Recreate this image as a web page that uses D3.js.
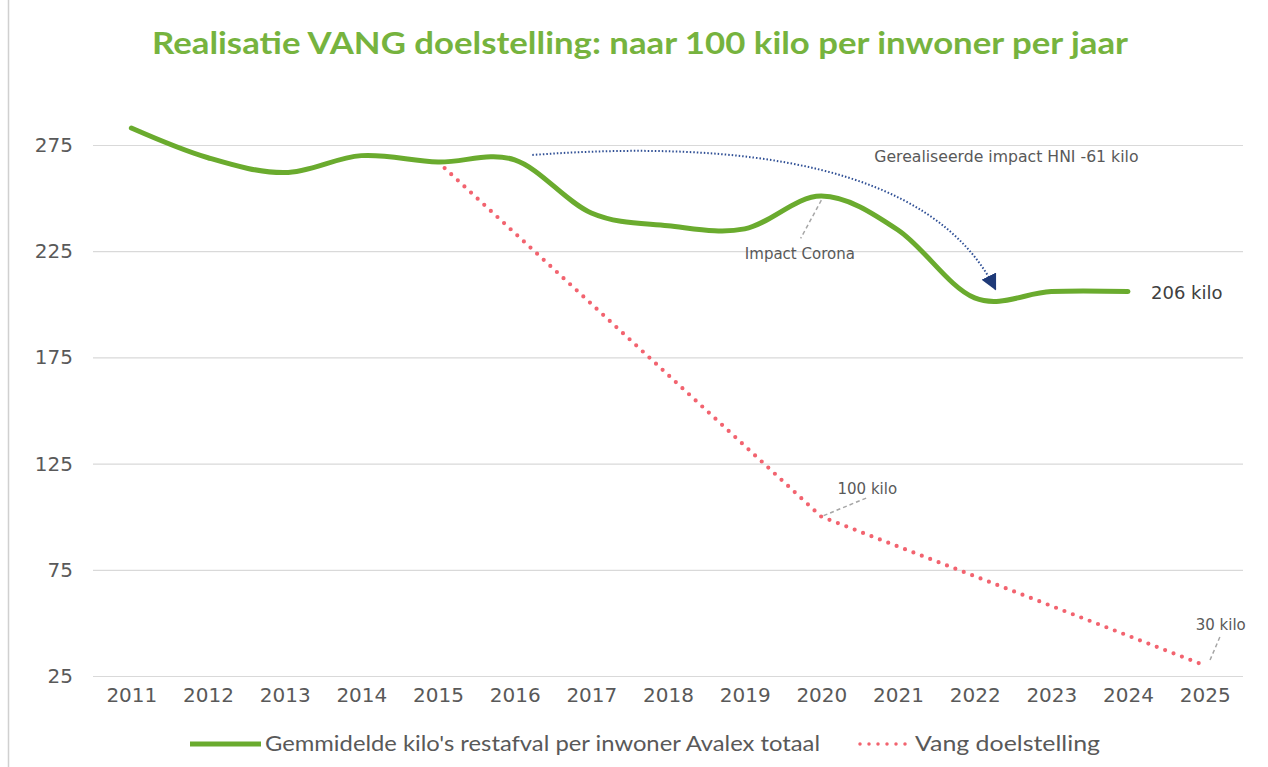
<!DOCTYPE html>
<html>
<head>
<meta charset="utf-8">
<title>Realisatie VANG doelstelling</title>
<style>
body { margin: 0; background: #fff; }
</style>
</head>
<body>
<div id="container"></div>
<script src="https://d3js.org/d3.v7.min.js"></script>
<script>
// Data
const years = ["2011","2012","2013","2014","2015","2016","2017","2018","2019","2020","2021","2022","2023","2024","2025"];
const avalex = [283, 269, 262, 270, 267, 268, 243, 237, 235.5, 251, 235, 203, 206, 206, null];
const vang = [null, null, null, null, 267, null, null, null, null, 100, null, null, null, null, 30];
const yTicks = [25, 75, 125, 175, 225, 275];

const title = "Realisatie VANG doelstelling: naar 100 kilo per inwoner per jaar";
const legendLabels = ["Gemmidelde kilo's restafval per inwoner Avalex totaal", "Vang doelstelling"];

// annotations in data space [year, value]
const notes = [
  {text: "Impact Corona", at: [2019.72, 221.5], anchor: "middle", size: 15, line: [[2020.0, 249], [2019.73, 231]]},
  {text: "100 kilo", at: [2020.6, 110.5], anchor: "middle", size: 15, line: [[2020.03, 100.5], [2020.6, 109]]},
  {text: "30 kilo", at: [2025.21, 46.5], anchor: "middle", size: 15, line: [[2025.07, 32.5], [2025.2, 43.5]]},
  {text: "Gerealiseerde impact HNI -61 kilo", at: [2020.69, 267], anchor: "start", size: 15.7, line: null},
];
const hniArrow = [[2016.23, 270.3], [2018.96, 277.6], [2021.45, 266.0], [2022.27, 207.2]];

const width = 1268;
const height = 767;
const marginLeft = 93;
const marginRight = 25;
const yBottom = 676;
const yTop = 91.9;

const x = d3.scalePoint()
    .domain(years)
    .range([marginLeft, width - marginRight])
    .padding(0.5);

// fractional year positions for annotations
const xl = d3.scaleLinear()
    .domain([2011, 2025])
    .range([x("2011"), x("2025")]);

const y = d3.scaleLinear()
    .domain([25, 300])
    .range([yBottom, yTop]);

const svg = d3.create("svg")
    .attr("width", width)
    .attr("height", height)
    .style("font-family", "'DejaVu Sans', sans-serif");

// left frame edge
svg.append("line")
    .attr("x1", 8.5).attr("x2", 8.5)
    .attr("y1", 0).attr("y2", height)
    .attr("stroke", "#d0d0d0")
    .attr("stroke-width", 1.5);

svg.append("text")
    .attr("x", 152)
    .attr("y", 54)
    .attr("textLength", 976)
    .attr("lengthAdjust", "spacingAndGlyphs")
    .attr("fill", "#76b33e")
    .style("font-family", "Lato, 'Open Sans', sans-serif")
    .style("font-weight", "bold")
    .style("font-size", "31px")
    .text(title);

// gridlines + y labels
const yAxis = svg.append("g")
    .attr("transform", `translate(${marginLeft},0)`)
    .call(d3.axisLeft(y).tickValues(yTicks).tickSize(-(width - marginRight - marginLeft)).tickPadding(20));
yAxis.select(".domain").remove();
yAxis.selectAll(".tick line").attr("stroke", "#d9d9d9").attr("stroke-width", 1.2);
yAxis.selectAll(".tick text")
    .attr("fill", "#595959")
    .style("font-size", "20px")
    .style("font-family", "'DejaVu Sans', sans-serif");

// x labels
const xAxis = svg.append("g")
    .attr("transform", `translate(0,${yBottom})`)
    .call(d3.axisBottom(x).tickSize(0).tickPadding(12));
xAxis.select(".domain").remove();
xAxis.selectAll(".tick text")
    .attr("fill", "#595959")
    .style("font-size", "20px")
    .style("font-family", "'DejaVu Sans', sans-serif");

// series
const rows = years.map((yr, i) => ({year: yr, avalex: avalex[i], vang: vang[i]}));

const greenLine = d3.line()
    .defined(d => d.avalex != null)
    .x(d => x(d.year))
    .y(d => y(d.avalex))
    .curve(d3.curveCardinal.tension(0));

const redLine = d3.line()
    .x(d => x(d.year))
    .y(d => y(d.vang));

svg.append("path")
    .attr("fill", "none")
    .attr("stroke", "#f2636f")
    .attr("stroke-width", 4.2)
    .attr("stroke-linecap", "round")
    .attr("stroke-dasharray", "0 9")
    .attr("d", redLine(rows.filter(d => d.vang != null)));

svg.append("path")
    .attr("fill", "none")
    .attr("stroke", "#6aab2e")
    .attr("stroke-width", 5)
    .attr("stroke-linecap", "round")
    .attr("d", greenLine(rows.filter(d => d.avalex != null)));

// HNI arrow
svg.append("defs").append("marker")
    .attr("id", "head")
    .attr("viewBox", "0 0 10 10")
    .attr("refX", 9).attr("refY", 5)
    .attr("markerWidth", 8).attr("markerHeight", 8)
    .attr("markerUnits", "strokeWidth")
    .attr("orient", "auto")
    .append("path")
    .attr("d", "M0,0 L10,5 L0,10 z")
    .attr("fill", "#1f3a78");

const ap = hniArrow.map(([a, b]) => [xl(a), y(b)]);
svg.append("path")
    .attr("fill", "none")
    .attr("stroke", "#2f4f95")
    .attr("stroke-width", 2)
    .attr("stroke-dasharray", "1.5 2")
    .attr("marker-end", "url(#head)")
    .attr("d", `M${ap[0]}C${ap[1]} ${ap[2]} ${ap[3]}`);

// annotations
notes.forEach(n => {
  if (n.line) {
    svg.append("line")
      .attr("x1", xl(n.line[0][0])).attr("y1", y(n.line[0][1]))
      .attr("x2", xl(n.line[1][0])).attr("y2", y(n.line[1][1]))
      .attr("stroke", "#a6a6a6")
      .attr("stroke-width", 1.5)
      .attr("stroke-dasharray", "4 3");
  }
  svg.append("text")
    .attr("x", xl(n.at[0]))
    .attr("y", y(n.at[1]))
    .attr("text-anchor", n.anchor)
    .attr("fill", "#595959")
    .style("font-size", n.size + "px")
    .text(n.text);
});

// end label
svg.append("text")
    .attr("x", x("2024") + 23)
    .attr("y", y(206) + 7)
    .attr("fill", "#404040")
    .style("font-size", "18px")
    .text("206 kilo");

// legend
const legend = svg.append("g")
    .style("font-family", "Lato, 'Open Sans', sans-serif")
    .style("font-size", "21px")
    .attr("fill", "#595959");
legend.append("line")
    .attr("x1", 190).attr("x2", 261).attr("y1", 744).attr("y2", 744)
    .attr("stroke", "#6aab2e").attr("stroke-width", 5);
legend.append("text").attr("x", 265).attr("y", 751)
    .attr("textLength", 555).attr("lengthAdjust", "spacingAndGlyphs")
    .text(legendLabels[0]);
legend.append("line")
    .attr("x1", 860).attr("x2", 910).attr("y1", 744).attr("y2", 744)
    .attr("stroke", "#f2636f").attr("stroke-width", 3.5)
    .attr("stroke-linecap", "round").attr("stroke-dasharray", "0 9");
legend.append("text").attr("x", 915).attr("y", 751)
    .attr("textLength", 185).attr("lengthAdjust", "spacingAndGlyphs")
    .text(legendLabels[1]);

container.append(svg.node());
</script>
</body>
</html>
